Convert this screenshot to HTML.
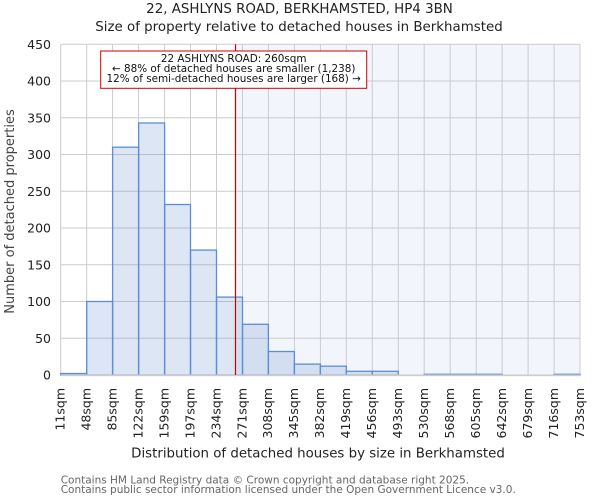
<!DOCTYPE html>
<html><head><meta charset="utf-8"><style>
html,body{margin:0;padding:0;background:#fff;}
svg{display:block;font-family:"DejaVu Sans","Liberation Sans",sans-serif;}
</style></head><body>
<svg width="600" height="500" viewBox="0 0 600 500" xmlns="http://www.w3.org/2000/svg">
<rect width="600" height="500" fill="#fff"/>
<text x="299.5" y="13" font-size="13.4" text-anchor="middle" fill="#222">22, ASHLYNS ROAD, BERKHAMSTED, HP4 3BN</text>
<text x="299" y="31" font-size="13.4" text-anchor="middle" fill="#222">Size of property relative to detached houses in Berkhamsted</text>
<rect x="235.5" y="44.3" width="344.5" height="330.7" fill="#f2f5fc"/>
<g stroke="#cccccc" stroke-width="1">
<line x1="60.7" y1="44.3" x2="580" y2="44.3"/><line x1="60.7" y1="81.05" x2="580" y2="81.05"/><line x1="60.7" y1="117.8" x2="580" y2="117.8"/><line x1="60.7" y1="154.5" x2="580" y2="154.5"/><line x1="60.7" y1="191.3" x2="580" y2="191.3"/><line x1="60.7" y1="228" x2="580" y2="228"/><line x1="60.7" y1="264.8" x2="580" y2="264.8"/><line x1="60.7" y1="301.5" x2="580" y2="301.5"/><line x1="60.7" y1="338.3" x2="580" y2="338.3"/>
<line x1="60.7" y1="44.3" x2="60.7" y2="375"/><line x1="86.7" y1="44.3" x2="86.7" y2="375"/><line x1="112.6" y1="44.3" x2="112.6" y2="375"/><line x1="138.6" y1="44.3" x2="138.6" y2="375"/><line x1="164.6" y1="44.3" x2="164.6" y2="375"/><line x1="190.5" y1="44.3" x2="190.5" y2="375"/><line x1="216.5" y1="44.3" x2="216.5" y2="375"/><line x1="242.5" y1="44.3" x2="242.5" y2="375"/><line x1="268.4" y1="44.3" x2="268.4" y2="375"/><line x1="294.4" y1="44.3" x2="294.4" y2="375"/><line x1="320.4" y1="44.3" x2="320.4" y2="375"/><line x1="346.3" y1="44.3" x2="346.3" y2="375"/><line x1="372.3" y1="44.3" x2="372.3" y2="375"/><line x1="398.3" y1="44.3" x2="398.3" y2="375"/><line x1="424.2" y1="44.3" x2="424.2" y2="375"/><line x1="450.2" y1="44.3" x2="450.2" y2="375"/><line x1="476.2" y1="44.3" x2="476.2" y2="375"/><line x1="502.1" y1="44.3" x2="502.1" y2="375"/><line x1="528.1" y1="44.3" x2="528.1" y2="375"/><line x1="554.1" y1="44.3" x2="554.1" y2="375"/><line x1="580" y1="44.3" x2="580" y2="375"/>
</g>
<g fill="rgba(100,141,205,0.22)" stroke="#5b8ed6" stroke-width="1.3">
<rect x="60.7" y="373.5" width="26" height="1.5"/>
<rect x="86.7" y="301.5" width="25.9" height="73.5"/>
<rect x="112.6" y="147.2" width="26" height="227.8"/>
<rect x="138.6" y="123" width="26" height="252"/>
<rect x="164.6" y="204.5" width="25.9" height="170.5"/>
<rect x="190.5" y="250.1" width="26" height="124.9"/>
<rect x="216.5" y="297.1" width="26" height="77.9"/>
<rect x="242.5" y="324.3" width="25.9" height="50.7"/>
<rect x="268.4" y="351.5" width="26" height="23.5"/>
<rect x="294.4" y="364.1" width="26" height="10.9"/>
<rect x="320.4" y="366.2" width="25.9" height="8.8"/>
<rect x="346.3" y="371.3" width="26" height="3.7"/>
<rect x="372.3" y="371.3" width="26" height="3.7"/>
<rect x="424.2" y="374.3" width="26" height="0.7"/>
<rect x="450.2" y="374.3" width="26" height="0.7"/>
<rect x="476.2" y="374.3" width="25.9" height="0.7"/>
<rect x="554.1" y="374.3" width="25.9" height="0.7"/>
</g>
<line x1="60.7" y1="375.3" x2="580" y2="375.3" stroke="#cccccc" stroke-width="1.6"/>
<line x1="235.5" y1="44.3" x2="235.5" y2="375" stroke="#cc0000" stroke-width="1.2"/>
<rect x="100.7" y="51" width="266" height="37.3" fill="#fff" stroke="#cc0000" stroke-width="1"/>
<g font-size="10.4" text-anchor="middle" fill="#111">
<text x="233.7" y="62">22 ASHLYNS ROAD: 260sqm</text>
<text x="233.7" y="72">← 88% of detached houses are smaller (1,238)</text>
<text x="233.7" y="82">12% of semi-detached houses are larger (168) →</text>
</g>
<g font-size="12.5" text-anchor="end" fill="#222">
<text x="51" y="379.5">0</text><text x="51" y="342.8">50</text><text x="51" y="306">100</text><text x="51" y="269.3">150</text><text x="51" y="232.5">200</text><text x="51" y="195.8">250</text><text x="51" y="159">300</text><text x="51" y="122.3">350</text><text x="51" y="85.5">400</text><text x="51" y="48.8">450</text>
</g>
<g font-size="12.5" text-anchor="end" fill="#222">
<text transform="translate(64.5,388) rotate(-90)">11sqm</text>
<text transform="translate(90.5,388) rotate(-90)">48sqm</text>
<text transform="translate(116.4,388) rotate(-90)">85sqm</text>
<text transform="translate(142.4,388) rotate(-90)">122sqm</text>
<text transform="translate(168.4,388) rotate(-90)">159sqm</text>
<text transform="translate(194.3,388) rotate(-90)">197sqm</text>
<text transform="translate(220.3,388) rotate(-90)">234sqm</text>
<text transform="translate(246.3,388) rotate(-90)">271sqm</text>
<text transform="translate(272.2,388) rotate(-90)">308sqm</text>
<text transform="translate(298.2,388) rotate(-90)">345sqm</text>
<text transform="translate(324.2,388) rotate(-90)">382sqm</text>
<text transform="translate(350.1,388) rotate(-90)">419sqm</text>
<text transform="translate(376.1,388) rotate(-90)">456sqm</text>
<text transform="translate(402.1,388) rotate(-90)">493sqm</text>
<text transform="translate(428,388) rotate(-90)">530sqm</text>
<text transform="translate(454,388) rotate(-90)">568sqm</text>
<text transform="translate(480,388) rotate(-90)">605sqm</text>
<text transform="translate(505.9,388) rotate(-90)">642sqm</text>
<text transform="translate(531.9,388) rotate(-90)">679sqm</text>
<text transform="translate(557.9,388) rotate(-90)">716sqm</text>
<text transform="translate(583.8,388) rotate(-90)">753sqm</text>
</g>
<text x="318" y="457.3" font-size="13.35" text-anchor="middle" fill="#222">Distribution of detached houses by size in Berkhamsted</text>
<text transform="translate(14,211.5) rotate(-90)" font-size="13" text-anchor="middle" fill="#444">Number of detached properties</text>
<g font-size="10.5" fill="#666">
<text x="60.7" y="483.3">Contains HM Land Registry data © Crown copyright and database right 2025.</text>
<text x="60.7" y="492.8">Contains public sector information licensed under the Open Government Licence v3.0.</text>
</g>
</svg>
</body></html>
